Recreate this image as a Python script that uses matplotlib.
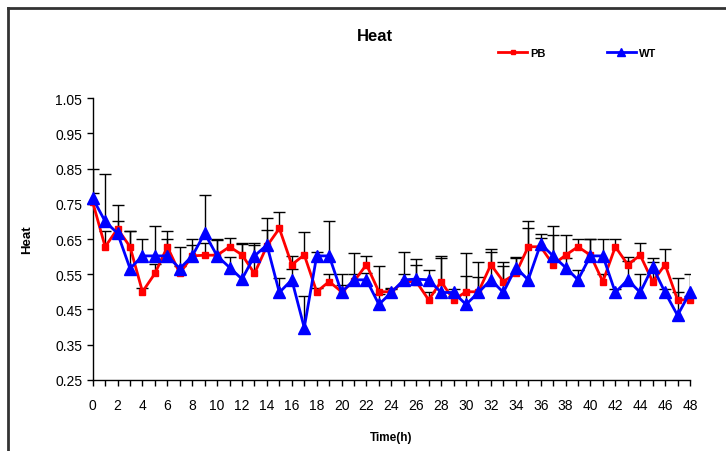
import matplotlib.pyplot as plt
import matplotlib.lines as mlines
import numpy as np

plt.rcParams['font.family'] = ['Liberation Sans', 'DejaVu Sans']

# Data (hours 0..48)
hours = np.arange(0, 49)
pb = [0.755, 0.628, 0.679, 0.628, 0.500, 0.552, 0.628, 0.552, 0.602, 0.604,
      0.604, 0.628, 0.605, 0.552, 0.630, 0.680, 0.577, 0.605, 0.500, 0.529,
      0.500, 0.530, 0.577, 0.500, 0.500, 0.529, 0.529, 0.477, 0.529, 0.477,
      0.500, 0.500, 0.577, 0.529, 0.552, 0.628, 0.628, 0.577, 0.604, 0.628,
      0.604, 0.529, 0.628, 0.577, 0.604, 0.529, 0.577, 0.477, 0.477]
wt = [0.766, 0.700, 0.666, 0.566, 0.602, 0.602, 0.602, 0.566, 0.602, 0.666,
      0.602, 0.569, 0.536, 0.602, 0.633, 0.498, 0.534, 0.398, 0.602, 0.602,
      0.498, 0.534, 0.534, 0.464, 0.498, 0.534, 0.536, 0.534, 0.498, 0.498,
      0.464, 0.498, 0.534, 0.498, 0.569, 0.534, 0.636, 0.602, 0.569, 0.534,
      0.602, 0.602, 0.498, 0.534, 0.498, 0.571, 0.498, 0.433, 0.498]
pb_err = [0.095, 0.046, 0.068, 0.046, 0.010, 0.028, 0.046, 0.020, 0.048, 0.036,
          0.046, 0.025, 0.033, 0.088, 0.047, 0.046, 0.025, 0.066, 0.010, 0.021,
          0.050, 0.080, 0.025, 0.072, 0.010, 0.083, 0.064, 0.023, 0.073, 0.010,
          0.045, 0.086, 0.046, 0.057, 0.048, 0.052, 0.024, 0.085, 0.056, 0.022,
          0.046, 0.021, 0.022, 0.023, 0.036, 0.057, 0.046, 0.062, 0.010]
wt_err = [0.014, 0.136, 0.036, 0.108, 0.048, 0.086, 0.048, 0.060, 0.030, 0.108,
          0.044, 0.030, 0.100, 0.030, 0.077, 0.040, 0.030, 0.090, 0.010, 0.100,
          0.020, 0.016, 0.020, 0.030, 0.010, 0.016, 0.040, 0.028, 0.098, 0.010,
          0.145, 0.045, 0.078, 0.076, 0.027, 0.168, 0.028, 0.086, 0.027, 0.029,
          0.048, 0.048, 0.010, 0.053, 0.052, 0.025, 0.010, 0.067, 0.052]

fig = plt.figure(figsize=(7.26, 4.52), dpi=100)
ax = fig.add_axes([0.1277, 0.1577, 0.8227, 0.6226])

# upper-only error bars
for vals, errs in [(pb, pb_err), (wt, wt_err)]:
    eb = ax.errorbar(hours, vals, yerr=[np.zeros(len(errs)), errs], fmt='none',
                     ecolor='black', elinewidth=1, capsize=4, capthick=1, zorder=2)
    eb[1][0].set_visible(False)

ax.plot(hours, pb, color='#FF0000', lw=2, marker='s', ms=5, label='PB', zorder=3,
        clip_on=False)
ax.plot(hours, wt, color='#0000FF', lw=2, marker='^', ms=8, label='WT', zorder=4,
        clip_on=False)

ax.set_xlim(0, 48)
ax.set_ylim(0.25, 1.05)
ax.set_xticks(np.arange(0, 49, 2))
ax.set_xticks(np.arange(0, 49, 1), minor=True)
ax.set_yticks(np.arange(0.25, 1.06, 0.1))
ax.set_yticklabels([f'{v:.2f}' for v in np.arange(0.25, 1.06, 0.1)])
ax.tick_params(axis='both', which='both', direction='out', labelsize=10,
               length=4, width=1, color='black')
ax.tick_params(axis='x', which='minor', length=4)
ax.tick_params(axis='x', pad=9)
for s in ['top', 'right']:
    ax.spines[s].set_visible(False)
for s in ['left', 'bottom']:
    ax.spines[s].set_color('black')
    ax.spines[s].set_linewidth(1)

ax.set_xlabel('Time(h)', fontsize=8.5, fontweight='bold', labelpad=14)
ax.set_ylabel('Heat', fontsize=9.5, fontweight='bold', labelpad=16)
fig.text(0.517, 0.919, 'Heat', fontsize=12, fontweight='bold', ha='center', va='center')

fig.legend(loc='center', bbox_to_anchor=(0.795, 0.881), ncol=2, frameon=False,
           prop={'size': 8, 'weight': 'bold'}, handlelength=2.6, columnspacing=5.5,
           handletextpad=0.3, markerscale=0.7)

# chart border (partially visible)
fig.add_artist(mlines.Line2D([0.011, 0.011], [0, 0.981], color='#333333', lw=2))
fig.add_artist(mlines.Line2D([0.011, 1.0], [0.981, 0.981], color='#333333', lw=2))

fig.savefig('out.png', dpi=100)
